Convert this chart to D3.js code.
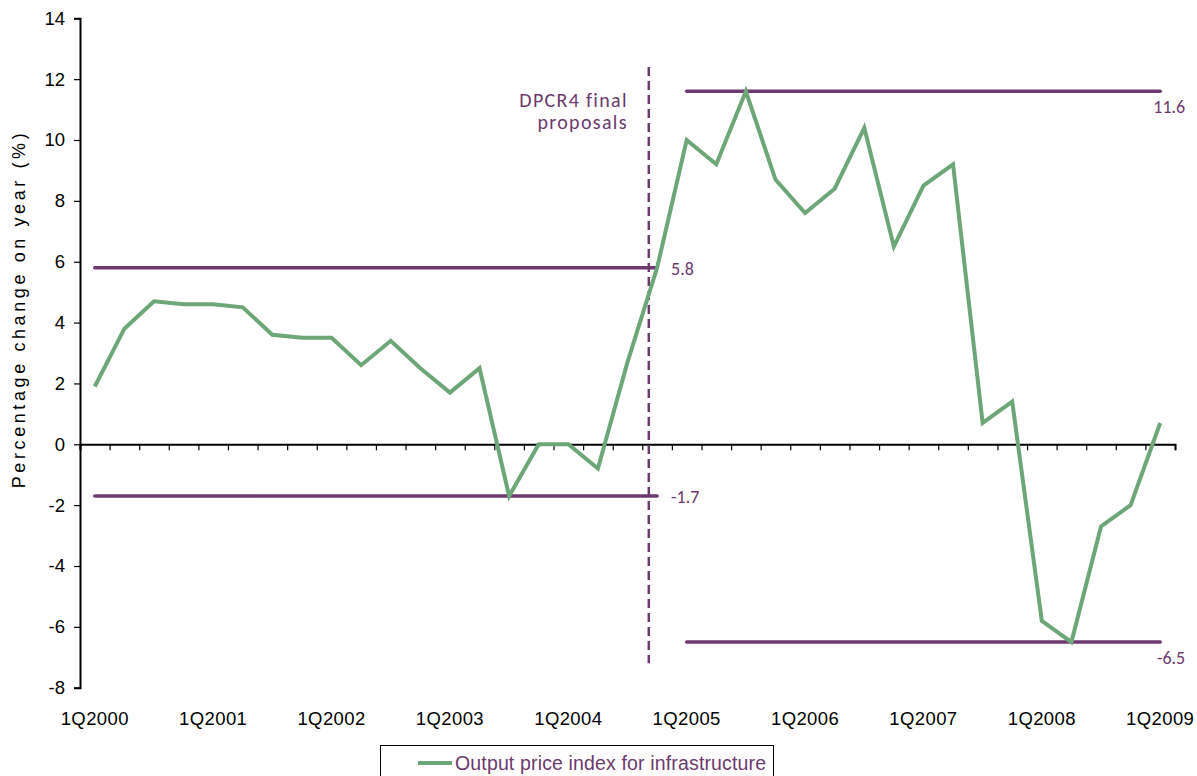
<!DOCTYPE html>
<html>
<head>
<meta charset="utf-8">
<script src="https://cdn.jsdelivr.net/npm/d3@7"></script>
<style>
  html, body { margin: 0; padding: 0; background: #fff; }
  svg { display: block; }
</style>
</head>
<body>
<svg id="chart" width="1197" height="776"></svg>
<script>
// Quarterly categories, 1Q2000 .. 1Q2009
const quarters = [];
for (let yr = 2000; yr <= 2009; yr++) {
  for (let q = 1; q <= 4; q++) {
    if (yr === 2009 && q > 1) break;
    quarters.push(q + "Q" + yr);
  }
}

// Output price index for infrastructure, % change on year
const infraIndex = [
  1.9, 3.8, 4.7, 4.6,
  4.6, 4.5, 3.6, 3.5,
  3.5, 2.6, 3.4, 2.5,
  1.7, 2.5, -1.7, 0.0,
  0.0, -0.8, 2.7, 5.8,
  10.0, 9.2, 11.6, 8.7,
  7.6, 8.4, 10.4, 6.5,
  8.5, 9.2, 0.7, 1.4,
  -5.8, -6.5, -2.7, -2.0,
  0.7
];

// Reference bands: [first quarter, last quarter, value]
const refLines = [
  { from: "1Q2000", to: "4Q2004", value: 5.8 },
  { from: "1Q2000", to: "4Q2004", value: -1.7 },
  { from: "1Q2005", to: "1Q2009", value: 11.6 },
  { from: "1Q2005", to: "1Q2009", value: -6.5 }
];

// Event marker (fractional quarter position) and its label
const eventPosition = 18.72;
const eventSpan = [12.4, -7.2];
const eventLabel = ["DPCR4 final", "proposals"];

const yTicks = [-8, -6, -4, -2, 0, 2, 4, 6, 8, 10, 12, 14];
const xTickLabels = ["1Q2000", "1Q2001", "1Q2002", "1Q2003", "1Q2004",
                     "1Q2005", "1Q2006", "1Q2007", "1Q2008", "1Q2009"];

const yTitle = "Percentage change on year (%)";
const legendLabel = "Output price index for infrastructure";

const GREEN = "#6da677";
const PURPLE = "#6c3a6e";
const SANS = "'Liberation Sans', Arial, sans-serif";

const svg = d3.select("#chart");
const plotLeft = 80, plotRight = 1175, plotTop = 18.3, plotBottom = 687.7;

const x = d3.scaleLinear().domain([-0.5, quarters.length - 0.5]).range([plotLeft, plotRight]);
const y = d3.scaleLinear().domain([-8, 14]).range([plotBottom, plotTop]);
const xi = name => x(quarters.indexOf(name));

// Y axis (plain hyphen for negatives)
const yAxis = d3.axisLeft(y).tickValues(yTicks).tickSize(6).tickPadding(9)
  .tickFormat(d => String(d));
const gy = svg.append("g").attr("transform", `translate(${plotLeft},0)`).call(yAxis);
gy.select(".domain").attr("stroke", "#000").attr("stroke-width", 2);
gy.selectAll(".tick line").attr("stroke", "#000").attr("stroke-width", 1.2);
gy.selectAll(".tick text")
  .attr("font-family", SANS)
  .attr("font-size", 18.5).attr("fill", "#000");

// X axis along zero, with tick marks at category boundaries
const boundaries = d3.range(0, quarters.length + 1).map(i => i - 0.5);
const gx = svg.append("g").attr("transform", `translate(0,${y(0)})`)
  .call(d3.axisBottom(x).tickValues(boundaries).tickSize(6).tickFormat(""));
gx.select(".domain").attr("stroke", "#000").attr("stroke-width", 2);
gx.selectAll(".tick line").attr("stroke", "#000").attr("stroke-width", 1.2);

// Category labels beneath the plot
svg.append("g").selectAll("text").data(xTickLabels).join("text")
  .attr("x", d => xi(d))
  .attr("y", 725)
  .attr("text-anchor", "middle")
  .attr("font-family", SANS)
  .attr("font-size", 18.5)
  .attr("letter-spacing", 0.4)
  .attr("fill", "#000")
  .text(d => d);

// Y axis title
svg.append("text")
  .attr("transform", `translate(25,309) rotate(-90)`)
  .attr("text-anchor", "middle")
  .attr("font-family", SANS)
  .attr("font-size", 18)
  .attr("letter-spacing", 3.6)
  .attr("fill", "#000")
  .text(yTitle);

// Reference lines
svg.append("g").selectAll("line").data(refLines).join("line")
  .attr("x1", d => xi(d.from)).attr("x2", d => xi(d.to))
  .attr("y1", d => y(d.value)).attr("y2", d => y(d.value))
  .attr("stroke", PURPLE).attr("stroke-width", 3.5)
  .attr("stroke-linecap", "round");

// Reference labels
const annoFont = "Carlito, Calibri, Lato, sans-serif";
refLines.forEach(d => {
  const lower = d.to === "1Q2009";
  svg.append("text")
    .attr("x", lower ? xi(d.to) + 25 : xi(d.to) + 14)
    .attr("y", lower ? y(d.value) + 22 : y(d.value) + 7)
    .attr("text-anchor", lower ? "end" : "start")
    .attr("font-family", annoFont)
    .attr("font-size", 18)
    .attr("fill", PURPLE)
    .text(d.value.toFixed(1));
});

// Event marker
svg.append("line")
  .attr("x1", x(eventPosition)).attr("x2", x(eventPosition))
  .attr("y1", y(eventSpan[0])).attr("y2", y(eventSpan[1]))
  .attr("stroke", PURPLE).attr("stroke-width", 2.5)
  .attr("stroke-dasharray", "9,5");

svg.append("g").selectAll("text").data(eventLabel).join("text")
  .attr("x", x(eventPosition) - 21)
  .attr("y", (d, i) => 107 + i * 22)
  .attr("text-anchor", "end")
  .attr("font-family", annoFont)
  .attr("font-size", 20)
  .attr("letter-spacing", 1.3)
  .attr("fill", PURPLE)
  .text(d => d);

// Data series
const line = d3.line().x((d, i) => x(i)).y(d => y(d));
svg.append("path")
  .datum(infraIndex)
  .attr("d", line)
  .attr("fill", "none")
  .attr("stroke", GREEN)
  .attr("stroke-width", 4)
  .attr("stroke-linejoin", "miter");

// Legend
const lg = svg.append("g");
lg.append("rect")
  .attr("x", 380.5).attr("y", 745.5).attr("width", 393).attr("height", 40)
  .attr("fill", "#fff").attr("stroke", "#000").attr("stroke-width", 1);
lg.append("line")
  .attr("x1", 418).attr("x2", 452).attr("y1", 763).attr("y2", 763)
  .attr("stroke", GREEN).attr("stroke-width", 4);
lg.append("text")
  .attr("x", 455).attr("y", 770)
  .attr("font-family", SANS)
  .attr("font-size", 19.5)
  .attr("letter-spacing", 0.15)
  .attr("fill", PURPLE)
  .text(legendLabel);
</script>
</body>
</html>
